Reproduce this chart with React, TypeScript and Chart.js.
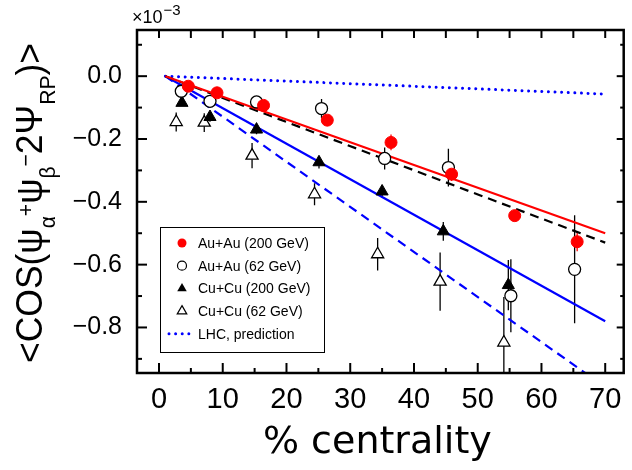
import React, { useEffect, useRef } from "react";
import { Chart, registerables } from "chart.js";

Chart.register(...registerables);

// ---- data (values in units of 1e-3) ----
const auau200X = [4.6, 9.1, 16.4, 26.4, 36.4, 45.9, 55.8, 65.6];
const auau200Y = [-0.032, -0.053, -0.093, -0.14, -0.211, -0.312, -0.444, -0.527];
const auau200Err = [0.01, 0.01, 0.012, 0.015, 0.025, 0.022, 0.015, 0.03];

const auau62X = [3.5, 8.0, 15.3, 25.5, 35.4, 45.4, 55.2, 65.2];
const auau62Y = [-0.048, -0.08, -0.082, -0.103, -0.262, -0.291, -0.699, -0.615];
const auau62Err = [0.01, 0.012, 0.012, 0.03, 0.035, 0.06, 0.116, 0.172];

const cucu200X = [3.6, 8.0, 15.3, 25.1, 35.0, 44.6, 54.8];
const cucu200Y = [-0.085, -0.13, -0.17, -0.274, -0.367, -0.494, -0.665];
const cucu200Err = [0.01, 0.015, 0.015, 0.02, 0.02, 0.03, 0.08];

const cucu62X = [2.7, 7.1, 14.6, 24.4, 34.3, 44.1, 54.1];
const cucu62Y = [-0.146, -0.148, -0.253, -0.376, -0.567, -0.654, -0.848];
const cucu62Err = [0.03, 0.03, 0.04, 0.035, 0.052, 0.093, 0.145];

const fitX = [1, 70];
const fitAuAu200 = [0, -0.5];
const fitAuAu62 = [0, -0.53];
const fitCuCu200 = [0, -0.78];
const fitCuCu62 = [0, -0.99];
const lhcPrediction = [0, -0.057];

const xMajorTicks = [0, 10, 20, 30, 40, 50, 60, 70];
const xMinorTicks = [5, 15, 25, 35, 45, 55, 65];
const yMajorTicks = [0, -0.2, -0.4, -0.6, -0.8];
const yTickLabels = ["0.0", "\u22120.2", "\u22120.4", "\u22120.6", "\u22120.8"];
const yMinorTicks = [0.1, -0.1, -0.3, -0.5, -0.7, -0.9];

const legendLabels = [
  "Au+Au (200 GeV)",
  "Au+Au (62 GeV)",
  "Cu+Cu (200 GeV)",
  "Cu+Cu (62 GeV)",
  "LHC, prediction",
];

const RED = "#ff0000";
const BLUE = "#0000ff";
const BLACK = "#000000";
const SANS = "'Liberation Sans', Arial, sans-serif";

const pts = (xs: number[], ys: number[]) => xs.map((x, i) => ({ x, y: ys[i] }));

const errorSeries = [
  { x: auau200X, y: auau200Y, err: auau200Err, color: RED },
  { x: auau62X, y: auau62Y, err: auau62Err, color: BLACK },
  { x: cucu200X, y: cucu200Y, err: cucu200Err, color: BLACK },
  { x: cucu62X, y: cucu62Y, err: cucu62Err, color: BLACK },
];

function drawMarker(ctx: CanvasRenderingContext2D, kind: string, x: number, y: number, r: number) {
  ctx.save();
  ctx.beginPath();
  if (kind === "circle" || kind === "ocircle") {
    ctx.arc(x, y, r, 0, Math.PI * 2);
  } else {
    const s = Math.sin(Math.PI / 3) * r;
    ctx.moveTo(x, y - r);
    ctx.lineTo(x + s, y + r / 2);
    ctx.lineTo(x - s, y + r / 2);
    ctx.closePath();
  }
  if (kind === "circle") {
    ctx.fillStyle = RED;
    ctx.fill();
  } else if (kind === "tri") {
    ctx.fillStyle = BLACK;
    ctx.fill();
  } else {
    ctx.fillStyle = "#fff";
    ctx.fill();
    ctx.strokeStyle = BLACK;
    ctx.lineWidth = 1.2;
    ctx.stroke();
  }
  ctx.restore();
}

const errorBarPlugin = {
  id: "errorBars",
  beforeDatasetsDraw(chart: any) {
    const { ctx, chartArea } = chart;
    const xs = chart.scales.x;
    const ys = chart.scales.y;
    ctx.save();
    ctx.beginPath();
    ctx.rect(chartArea.left, chartArea.top, chartArea.right - chartArea.left, chartArea.bottom - chartArea.top);
    ctx.clip();
    ctx.lineWidth = 1.3;
    errorSeries.forEach((s) => {
      ctx.strokeStyle = s.color;
      s.x.forEach((xv, i) => {
        const px = xs.getPixelForValue(xv);
        ctx.beginPath();
        ctx.moveTo(px, ys.getPixelForValue(s.y[i] + s.err[i]));
        ctx.lineTo(px, ys.getPixelForValue(s.y[i] - s.err[i]));
        ctx.stroke();
      });
    });
    ctx.restore();
  },
};

const decorPlugin = {
  id: "decor",
  afterDraw(chart: any) {
    const { ctx, chartArea } = chart;
    const xs = chart.scales.x;
    const ys = chart.scales.y;
    const { left, right, top, bottom } = chartArea;
    ctx.save();
    // frame
    ctx.strokeStyle = BLACK;
    ctx.lineWidth = 2.5;
    ctx.strokeRect(left, top, right - left, bottom - top);
    // ticks
    ctx.lineWidth = 2;
    const line = (x1: number, y1: number, x2: number, y2: number) => {
      ctx.beginPath();
      ctx.moveTo(x1, y1);
      ctx.lineTo(x2, y2);
      ctx.stroke();
    };
    xMajorTicks.forEach((v) => {
      const p = xs.getPixelForValue(v);
      line(p, bottom, p, bottom - 10);
      line(p, top, p, top + 8);
    });
    xMinorTicks.forEach((v) => {
      const p = xs.getPixelForValue(v);
      line(p, bottom, p, bottom - 5);
      line(p, top, p, top + 8);
    });
    yMajorTicks.forEach((v) => {
      const p = ys.getPixelForValue(v);
      line(left, p, left + 10, p);
      line(right, p, right - 7, p);
    });
    yMinorTicks.forEach((v) => {
      const p = ys.getPixelForValue(v);
      line(left, p, left + 5, p);
      line(right, p, right - 3.5, p);
    });

    // x10^-3
    ctx.fillStyle = BLACK;
    ctx.textBaseline = "alphabetic";
    ctx.textAlign = "left";
    ctx.font = `18px ${SANS}`;
    ctx.fillText("\u00d710", 132, 23);
    const w10 = ctx.measureText("\u00d710").width;
    ctx.font = `15px ${SANS}`;
    ctx.fillText("\u22123", 132 + w10 + 1, 15);

    // x title
    ctx.font = `38px 'DejaVu Sans', sans-serif`;
    ctx.textAlign = "center";
    ctx.fillText("% centrality", (left + right) / 2 - 3, 453);

    // y title with sub/superscripts
    const parts = [
      { t: "<COS(", k: 0 },
      { t: "\u03c8", k: 0 },
      { t: "\u03b1", k: 1 },
      { t: "+", k: 2 },
      { t: "\u03c8", k: 0 },
      { t: "\u03b2", k: 1 },
      { t: "\u2212", k: 2 },
      { t: "2\u03a8", k: 0 },
      { t: "RP", k: 1 },
      { t: ")>", k: 0 },
    ];
    const fontFor = (k: number) => (k === 0 ? `37px ${SANS}` : `22px ${SANS}`);
    const dyFor = (k: number) => (k === 0 ? 0 : k === 1 ? 13 : -9);
    ctx.textAlign = "left";
    let total = 0;
    parts.forEach((p) => {
      ctx.font = fontFor(p.k);
      total += ctx.measureText(p.t).width;
    });
    const target = 320;
    const k = Math.max(0.8, Math.min(1.2, target / total));
    ctx.save();
    ctx.translate(42, 203 + target / 2);
    ctx.rotate(-Math.PI / 2);
    ctx.scale(k, 1);
    let s = 0;
    parts.forEach((p) => {
      ctx.font = fontFor(p.k);
      ctx.fillText(p.t, s, dyFor(p.k));
      s += ctx.measureText(p.t).width;
    });
    ctx.restore();

    // legend
    const lx = left + 23;
    const ly = top + 197;
    ctx.fillStyle = "#fff";
    ctx.fillRect(lx, ly, 164, 125);
    ctx.strokeStyle = BLACK;
    ctx.lineWidth = 1;
    ctx.strokeRect(lx + 0.5, ly + 0.5, 164, 125);
    const kinds = ["circle", "ocircle", "tri", "otri"];
    ctx.font = `14px ${SANS}`;
    ctx.textBaseline = "middle";
    legendLabels.forEach((lab, i) => {
      const cy = ly + 16 + i * 22.7;
      if (i < 4) {
        drawMarker(ctx, kinds[i], lx + 22, cy, kinds[i].includes("tri") ? 5.5 : 4.5);
      } else {
        ctx.save();
        ctx.strokeStyle = BLUE;
        ctx.lineWidth = 3;
        ctx.lineCap = "round";
        ctx.setLineDash([0.01, 6.6]);
        ctx.beginPath();
        ctx.moveTo(lx + 9, cy);
        ctx.lineTo(lx + 31, cy);
        ctx.stroke();
        ctx.restore();
      }
      ctx.fillStyle = BLACK;
      ctx.textAlign = "left";
      ctx.fillText(lab, lx + 38, cy + 1);
    });
    ctx.restore();
  },
};

export default function App() {
  const ref = useRef<HTMLCanvasElement>(null);
  useEffect(() => {
    document.body.style.margin = "0";
    const canvas = ref.current!;
    const lineDs = (ys: number[], color: string, dash: number[], width: number, cap = "butt") => ({
      data: pts(fitX, ys),
      showLine: true,
      borderColor: color,
      borderWidth: width,
      borderDash: dash,
      borderCapStyle: cap,
      pointRadius: 0,
      pointHoverRadius: 0,
      fill: false,
    });
    const chart = new Chart(canvas, {
      type: "scatter",
      data: {
        datasets: [
          {
            label: legendLabels[0],
            data: pts(auau200X, auau200Y),
            pointStyle: "circle",
            pointRadius: 6,
            backgroundColor: RED,
            borderColor: RED,
            pointBorderWidth: 1,
          },
          {
            label: legendLabels[1],
            data: pts(auau62X, auau62Y),
            pointStyle: "circle",
            pointRadius: 6,
            backgroundColor: "#fff",
            borderColor: BLACK,
            pointBorderWidth: 1.3,
          },
          {
            label: legendLabels[2],
            data: pts(cucu200X, cucu200Y),
            pointStyle: "triangle",
            pointRadius: 7,
            backgroundColor: BLACK,
            borderColor: BLACK,
            pointBorderWidth: 1,
          },
          {
            label: legendLabels[3],
            data: pts(cucu62X, cucu62Y),
            pointStyle: "triangle",
            pointRadius: 7,
            backgroundColor: "#fff",
            borderColor: BLACK,
            pointBorderWidth: 1.3,
          },
          lineDs(fitAuAu200, RED, [], 2.2),
          lineDs(fitAuAu62, BLACK, [9, 6], 2.2),
          lineDs(fitCuCu200, BLUE, [], 2.2),
          lineDs(fitCuCu62, BLUE, [9, 6], 2.2),
          lineDs(lhcPrediction, BLUE, [0.01, 6.6], 3, "round"),
        ] as any,
      },
      options: {
        animation: false,
        responsive: false,
        devicePixelRatio: 1,
        events: [],
        layout: { padding: { top: 28, right: 2, left: 0, bottom: 0 } },
        plugins: { legend: { display: false }, tooltip: { enabled: false }, title: { display: false } },
        scales: {
          x: {
            type: "linear",
            min: -3.45,
            max: 72.9,
            grid: { display: false, drawTicks: false },
            border: { display: false },
            afterBuildTicks: (s: any) => {
              s.ticks = xMajorTicks.map((v) => ({ value: v }));
            },
            afterFit: (s: any) => {
              s.height = 97;
            },
            ticks: {
              color: BLACK,
              font: { family: "'Liberation Sans', Arial, sans-serif", size: 29 },
              padding: 10,
              maxRotation: 0,
              autoSkip: false,
              callback: (v: any) => String(v),
            },
          },
          y: {
            type: "linear",
            min: -0.945,
            max: 0.147,
            grid: { display: false, drawTicks: false },
            border: { display: false },
            afterBuildTicks: (s: any) => {
              s.ticks = yMajorTicks.map((v) => ({ value: v }));
            },
            afterFit: (s: any) => {
              s.width = 137;
            },
            ticks: {
              color: BLACK,
              font: { family: "'Liberation Sans', Arial, sans-serif", size: 25 },
              padding: 15,
              autoSkip: false,
              callback: (v: any) => {
                const i = yMajorTicks.findIndex((t) => Math.abs(t - v) < 1e-9);
                return i >= 0 ? yTickLabels[i] : "";
              },
            },
          },
        },
      } as any,
      plugins: [errorBarPlugin, decorPlugin],
    });
    return () => chart.destroy();
  }, []);
  return (
    <div style={{ width: 632, height: 470, background: "#fff" }}>
      <canvas ref={ref} width={632} height={470} style={{ display: "block", width: 632, height: 470 }} />
    </div>
  );
}
